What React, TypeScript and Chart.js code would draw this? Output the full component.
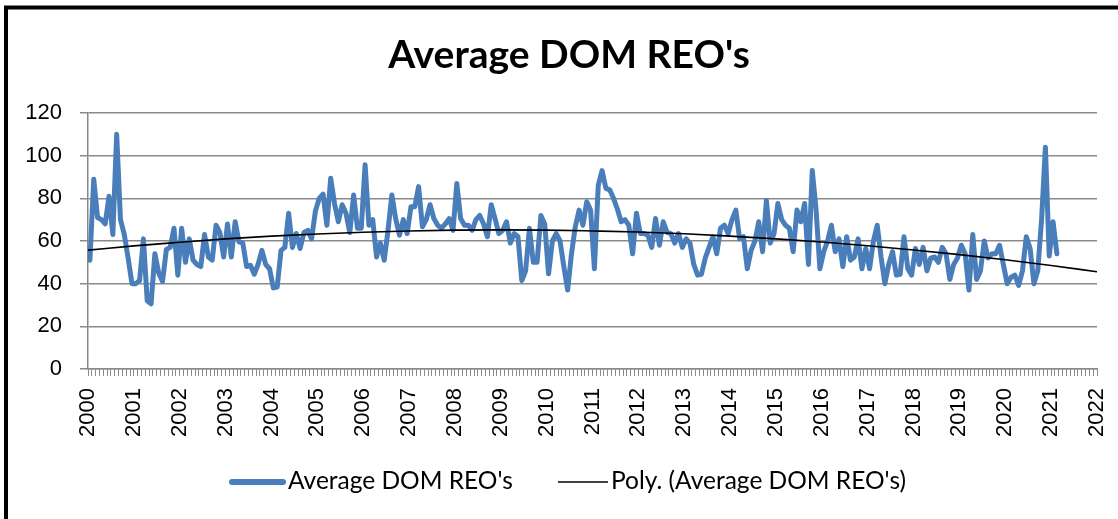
import React, { useEffect, useRef } from 'react';
import { Chart, registerables } from 'chart.js';

Chart.register(...registerables);

const TITLE = "Average DOM REO's";
const SERIES_LABEL = "Average DOM REO's";
const TREND_LABEL = "Poly. (Average DOM REO's)";

const START_YEAR = 2000;
const END_YEAR = 2022;
const MONTHS_PER_YEAR = 12;

const yearLabels = [
  '2000', '2001', '2002', '2003', '2004', '2005', '2006', '2007', '2008', '2009', '2010',
  '2011', '2012', '2013', '2014', '2015', '2016', '2017', '2018', '2019', '2020', '2021', '2022',
];

const yTickValues = [0, 20, 40, 60, 80, 100, 120];

// Monthly values starting January 2000
const domValues = [
  51, 89, 71, 70, 68, 81, 63, 110, 70, 63,
  52, 40, 40, 41.5, 61, 32, 30.5, 54, 45, 41,
  56, 57, 66, 44, 66, 50, 61, 51, 49, 48,
  63, 52.5, 51, 67.4, 64, 52.5, 68, 52.5, 69, 59.6,
  59, 48, 48.6, 44.4, 49, 55.6, 49, 47, 38, 38.4,
  55.6, 57, 73, 57, 63.5, 56.5, 64, 65, 61, 74,
  80, 82, 67.4, 89.4, 77.6, 69, 77, 73, 64, 81.6,
  66, 66, 95.7, 67.4, 70, 52.5, 59, 51, 65, 81.6,
  70.5, 62.7, 70, 63.5, 76, 76, 85.5, 66.7, 70, 77,
  70.5, 67.4, 66, 68, 70.5, 65, 87, 70.5, 67.4, 67.4,
  65, 70, 72, 68, 62, 77, 70.5, 63.5, 65, 69,
  59, 63.5, 62, 41.5, 46, 66, 50, 50, 72, 68,
  44.6, 60, 63.5, 60, 48, 37, 54, 66.7, 74.5, 67.4,
  78.4, 74.5, 47, 86, 93, 84.7, 84, 80, 75, 69,
  70, 67.4, 54, 73, 63.5, 63.5, 62.7, 57, 70.5, 58,
  69, 64, 63.5, 59, 63.5, 57, 61, 59, 49, 44,
  44.4, 52, 57, 62, 54, 66, 67.4, 63.5, 70, 74.5,
  61, 62, 47, 55.6, 60, 69, 55, 79, 59, 63.5,
  77.6, 70, 67.4, 66, 55, 74.5, 69, 77.6, 49, 93,
  74.5, 47, 55, 60, 67.4, 55, 61, 48, 62, 51,
  52.5, 61, 47, 56.5, 47, 60, 67.4, 52.5, 40, 49,
  55, 44, 44.4, 62, 47, 44, 56.5, 49, 57, 46,
  52, 52.5, 50, 57, 54, 42, 49, 52, 58, 54,
  37, 63, 42, 46, 60, 52, 54, 54, 58, 49,
  40, 43, 44, 39.2, 46, 62, 56.5, 40, 46, 70,
  104, 53, 69, 54,
];

// Polynomial trend line values read at each year mark
const trendYears = [
  2000, 2001, 2002, 2003, 2004, 2005, 2006, 2007, 2008, 2009, 2010,
  2011, 2012, 2013, 2014, 2015, 2016, 2017, 2018, 2019, 2020, 2021, 2022,
];
const trendValues = [
  55.7, 57.7, 59.4, 61.0, 62.3, 63.3, 64.1, 64.7, 65.1, 65.2, 65.1,
  64.7, 64.2, 63.4, 62.3, 61.0, 59.5, 57.8, 55.8, 53.6, 51.2, 48.5, 45.6,
];

const SERIES_COLOR = '#4A7EBB';
const GRID_COLOR = '#8a8a8a';
const AXIS_FONT = { family: '"Liberation Sans", Arial, sans-serif', size: 22 };

const framePlugin = {
  id: 'frame',
  beforeDraw(chart: any) {
    const ctx = chart.ctx;
    ctx.save();
    ctx.fillStyle = '#ffffff';
    ctx.fillRect(0, 0, chart.width, chart.height);
    ctx.strokeStyle = '#000000';
    ctx.lineWidth = 4;
    ctx.strokeRect(6, 7.5, chart.width + 100, chart.height + 100);
    ctx.restore();
  },
  afterDraw(chart: any) {
    const ctx = chart.ctx;
    ctx.save();
    // Title
    ctx.fillStyle = '#000000';
    ctx.font = 'bold 39px Lato, "Noto Sans", sans-serif';
    ctx.textAlign = 'center';
    ctx.textBaseline = 'alphabetic';
    ctx.fillText(TITLE, 569, 68);

    // Legend
    const ly = 482;
    ctx.lineCap = 'round';
    ctx.strokeStyle = SERIES_COLOR;
    ctx.lineWidth = 6;
    ctx.beginPath();
    ctx.moveTo(232, ly);
    ctx.lineTo(283, ly);
    ctx.stroke();
    ctx.lineCap = 'butt';
    ctx.strokeStyle = '#000000';
    ctx.lineWidth = 1.5;
    ctx.beginPath();
    ctx.moveTo(558, ly);
    ctx.lineTo(608, ly);
    ctx.stroke();

    ctx.font = '24.5px Lato, "Noto Sans", sans-serif';
    ctx.textAlign = 'left';
    ctx.fillStyle = '#000000';
    ctx.fillText(SERIES_LABEL, 288, 489);
    ctx.fillText(TREND_LABEL, 611, 489);
    ctx.restore();
  },
};

export default function App() {
  const canvasRef = useRef<HTMLCanvasElement | null>(null);

  useEffect(() => {
    document.body.style.margin = '0';
    const canvas = canvasRef.current;
    if (!canvas) return;

    const seriesPoints = domValues.map((v, i) => ({ x: i + 0.5, y: v }));
    const trendPoints = trendYears.map((yr, i) => ({
      x: (yr - START_YEAR) * MONTHS_PER_YEAR,
      y: trendValues[i],
    }));

    const chart = new Chart(canvas, {
      type: 'line',
      data: {
        datasets: [
          {
            label: TREND_LABEL,
            data: trendPoints,
            borderColor: '#000000',
            borderWidth: 1.6,
            pointRadius: 0,
            fill: false,
            cubicInterpolationMode: 'monotone',
            order: 1,
          },
          {
            label: SERIES_LABEL,
            data: seriesPoints,
            borderColor: SERIES_COLOR,
            borderWidth: 5,
            pointRadius: 0,
            fill: false,
            tension: 0,
            borderJoinStyle: 'round',
            borderCapStyle: 'round',
            order: 2,
          },
        ],
      },
      options: {
        responsive: false,
        animation: false,
        devicePixelRatio: 1,
        layout: { padding: { left: 8, right: 21, top: 113, bottom: 50 } },
        plugins: {
          legend: { display: false },
          title: { display: false },
          tooltip: { enabled: false },
        },
        scales: {
          x: {
            type: 'linear',
            min: 0,
            max: (END_YEAR - START_YEAR) * MONTHS_PER_YEAR,
            offset: false,
            afterFit(scale: any) {
              scale.height = 100;
              scale.paddingLeft = 0;
              scale.paddingRight = 0;
            },
            border: { display: true, color: GRID_COLOR, width: 1.5 },
            grid: {
              drawOnChartArea: false,
              drawTicks: true,
              tickLength: 7,
              color: GRID_COLOR,
              lineWidth: 1,
            },
            ticks: {
              stepSize: 1,
              autoSkip: false,
              minRotation: 90,
              maxRotation: 90,
              padding: 12,
              color: '#000000',
              font: AXIS_FONT,
              callback: (value: any) => {
                const v = Math.round(Number(value));
                return v % MONTHS_PER_YEAR === 0 ? yearLabels[v / MONTHS_PER_YEAR] : '';
              },
            },
          },
          y: {
            type: 'linear',
            min: yTickValues[0],
            max: yTickValues[yTickValues.length - 1],
            afterFit(scale: any) {
              scale.width = 80;
              scale.paddingTop = 0;
              scale.paddingBottom = 0;
            },
            border: { display: true, color: GRID_COLOR, width: 1.5 },
            grid: {
              color: GRID_COLOR,
              lineWidth: 1.5,
              drawTicks: true,
              tickLength: 8,
            },
            ticks: {
              stepSize: 20,
              padding: 18,
              color: '#000000',
              font: AXIS_FONT,
            },
          },
        },
      },
      plugins: [framePlugin],
    } as any);

    return () => {
      chart.destroy();
    };
  }, []);

  return (
    <div style={{ position: 'absolute', left: 0, top: 0, width: 1118, height: 519, background: '#fff' }}>
      <canvas ref={canvasRef} width={1118} height={519} style={{ width: 1118, height: 519, display: 'block' }} />
    </div>
  );
}
